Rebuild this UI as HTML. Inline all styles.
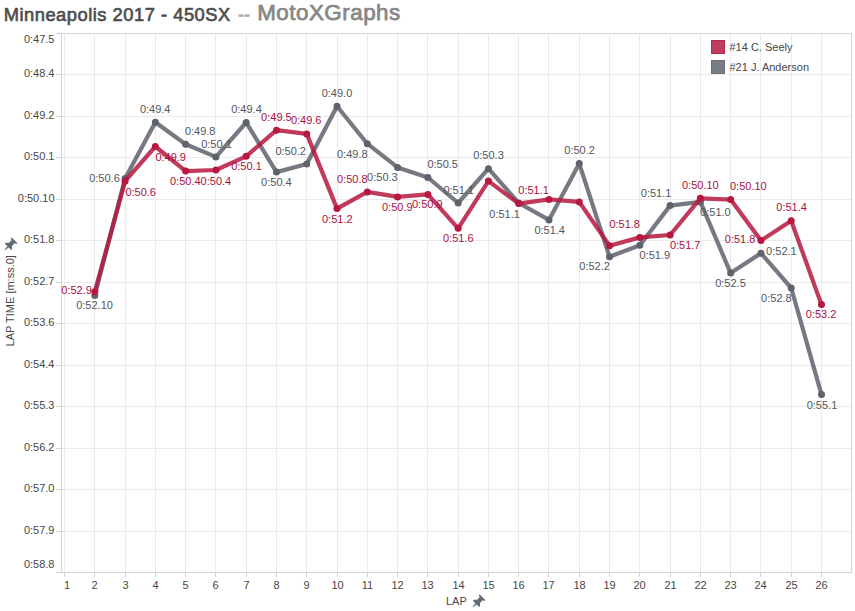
<!DOCTYPE html><html><head><meta charset="utf-8"><title>Minneapolis 2017 - 450SX -- MotoXGraphs</title>
<style>html,body{margin:0;padding:0;background:#fff;}body{width:855px;height:611px;overflow:hidden;position:relative;font-family:"Liberation Sans",sans-serif;}svg{position:absolute;left:0;top:0;}</style></head><body>
<svg width="855" height="611" viewBox="0 0 855 611" font-family="Liberation Sans, sans-serif">
<g font-weight="normal" stroke-linejoin="round">
<text x="3.7" y="20.5" font-size="18.3" fill="#4d4d4d" stroke="#4d4d4d" stroke-width="0.65" textLength="226.5" lengthAdjust="spacing">Minneapolis 2017 - 450SX</text>
<text x="238" y="20.5" font-size="19" fill="#adadad" stroke="#adadad" stroke-width="0.7" textLength="12" lengthAdjust="spacingAndGlyphs">--</text>
<text x="257.2" y="20.4" font-size="22.4" fill="#878787" stroke="#878787" stroke-width="0.75" textLength="143" lengthAdjust="spacing">MotoXGraphs</text>
</g>
<g shape-rendering="crispEdges" stroke-width="1">
<line x1="64.5" y1="34" x2="64.5" y2="572" stroke="#ebebeb"/>
<line x1="94.5" y1="34" x2="94.5" y2="572" stroke="#ebebeb"/>
<line x1="125.5" y1="34" x2="125.5" y2="572" stroke="#ebebeb"/>
<line x1="155.5" y1="34" x2="155.5" y2="572" stroke="#ebebeb"/>
<line x1="185.5" y1="34" x2="185.5" y2="572" stroke="#ebebeb"/>
<line x1="215.5" y1="34" x2="215.5" y2="572" stroke="#ebebeb"/>
<line x1="246.5" y1="34" x2="246.5" y2="572" stroke="#ebebeb"/>
<line x1="276.5" y1="34" x2="276.5" y2="572" stroke="#ebebeb"/>
<line x1="306.5" y1="34" x2="306.5" y2="572" stroke="#ebebeb"/>
<line x1="337.5" y1="34" x2="337.5" y2="572" stroke="#ebebeb"/>
<line x1="367.5" y1="34" x2="367.5" y2="572" stroke="#ebebeb"/>
<line x1="397.5" y1="34" x2="397.5" y2="572" stroke="#ebebeb"/>
<line x1="427.5" y1="34" x2="427.5" y2="572" stroke="#ebebeb"/>
<line x1="458.5" y1="34" x2="458.5" y2="572" stroke="#ebebeb"/>
<line x1="488.5" y1="34" x2="488.5" y2="572" stroke="#ebebeb"/>
<line x1="518.5" y1="34" x2="518.5" y2="572" stroke="#ebebeb"/>
<line x1="548.5" y1="34" x2="548.5" y2="572" stroke="#ebebeb"/>
<line x1="579.5" y1="34" x2="579.5" y2="572" stroke="#ebebeb"/>
<line x1="609.5" y1="34" x2="609.5" y2="572" stroke="#ebebeb"/>
<line x1="639.5" y1="34" x2="639.5" y2="572" stroke="#ebebeb"/>
<line x1="670.5" y1="34" x2="670.5" y2="572" stroke="#ebebeb"/>
<line x1="700.5" y1="34" x2="700.5" y2="572" stroke="#ebebeb"/>
<line x1="730.5" y1="34" x2="730.5" y2="572" stroke="#ebebeb"/>
<line x1="760.5" y1="34" x2="760.5" y2="572" stroke="#ebebeb"/>
<line x1="791.5" y1="34" x2="791.5" y2="572" stroke="#ebebeb"/>
<line x1="821.5" y1="34" x2="821.5" y2="572" stroke="#ebebeb"/>
<line x1="62" y1="74.5" x2="851" y2="74.5" stroke="#ebebeb"/>
<line x1="62" y1="116.5" x2="851" y2="116.5" stroke="#ebebeb"/>
<line x1="62" y1="157.5" x2="851" y2="157.5" stroke="#ebebeb"/>
<line x1="62" y1="199.5" x2="851" y2="199.5" stroke="#ebebeb"/>
<line x1="62" y1="240.5" x2="851" y2="240.5" stroke="#ebebeb"/>
<line x1="62" y1="282.5" x2="851" y2="282.5" stroke="#ebebeb"/>
<line x1="62" y1="323.5" x2="851" y2="323.5" stroke="#ebebeb"/>
<line x1="62" y1="365.5" x2="851" y2="365.5" stroke="#ebebeb"/>
<line x1="62" y1="406.5" x2="851" y2="406.5" stroke="#ebebeb"/>
<line x1="62" y1="448.5" x2="851" y2="448.5" stroke="#ebebeb"/>
<line x1="62" y1="489.5" x2="851" y2="489.5" stroke="#ebebeb"/>
<line x1="62" y1="531.5" x2="851" y2="531.5" stroke="#ebebeb"/>
<line x1="56" y1="33.5" x2="852" y2="33.5" stroke="#d4d4d4"/>
<line x1="56" y1="572.5" x2="852" y2="572.5" stroke="#d4d4d4"/>
<line x1="61.5" y1="33" x2="61.5" y2="573" stroke="#d4d4d4"/>
<line x1="851.5" y1="33" x2="851.5" y2="573" stroke="#d4d4d4"/>
<line x1="56" y1="74.5" x2="61" y2="74.5" stroke="#d4d4d4"/>
<line x1="56" y1="116.5" x2="61" y2="116.5" stroke="#d4d4d4"/>
<line x1="56" y1="157.5" x2="61" y2="157.5" stroke="#d4d4d4"/>
<line x1="56" y1="199.5" x2="61" y2="199.5" stroke="#d4d4d4"/>
<line x1="56" y1="240.5" x2="61" y2="240.5" stroke="#d4d4d4"/>
<line x1="56" y1="282.5" x2="61" y2="282.5" stroke="#d4d4d4"/>
<line x1="56" y1="323.5" x2="61" y2="323.5" stroke="#d4d4d4"/>
<line x1="56" y1="365.5" x2="61" y2="365.5" stroke="#d4d4d4"/>
<line x1="56" y1="406.5" x2="61" y2="406.5" stroke="#d4d4d4"/>
<line x1="56" y1="448.5" x2="61" y2="448.5" stroke="#d4d4d4"/>
<line x1="56" y1="489.5" x2="61" y2="489.5" stroke="#d4d4d4"/>
<line x1="56" y1="531.5" x2="61" y2="531.5" stroke="#d4d4d4"/>
<line x1="64.5" y1="573" x2="64.5" y2="577" stroke="#d4d4d4"/>
<line x1="94.5" y1="573" x2="94.5" y2="577" stroke="#d4d4d4"/>
<line x1="125.5" y1="573" x2="125.5" y2="577" stroke="#d4d4d4"/>
<line x1="155.5" y1="573" x2="155.5" y2="577" stroke="#d4d4d4"/>
<line x1="185.5" y1="573" x2="185.5" y2="577" stroke="#d4d4d4"/>
<line x1="215.5" y1="573" x2="215.5" y2="577" stroke="#d4d4d4"/>
<line x1="246.5" y1="573" x2="246.5" y2="577" stroke="#d4d4d4"/>
<line x1="276.5" y1="573" x2="276.5" y2="577" stroke="#d4d4d4"/>
<line x1="306.5" y1="573" x2="306.5" y2="577" stroke="#d4d4d4"/>
<line x1="337.5" y1="573" x2="337.5" y2="577" stroke="#d4d4d4"/>
<line x1="367.5" y1="573" x2="367.5" y2="577" stroke="#d4d4d4"/>
<line x1="397.5" y1="573" x2="397.5" y2="577" stroke="#d4d4d4"/>
<line x1="427.5" y1="573" x2="427.5" y2="577" stroke="#d4d4d4"/>
<line x1="458.5" y1="573" x2="458.5" y2="577" stroke="#d4d4d4"/>
<line x1="488.5" y1="573" x2="488.5" y2="577" stroke="#d4d4d4"/>
<line x1="518.5" y1="573" x2="518.5" y2="577" stroke="#d4d4d4"/>
<line x1="548.5" y1="573" x2="548.5" y2="577" stroke="#d4d4d4"/>
<line x1="579.5" y1="573" x2="579.5" y2="577" stroke="#d4d4d4"/>
<line x1="609.5" y1="573" x2="609.5" y2="577" stroke="#d4d4d4"/>
<line x1="639.5" y1="573" x2="639.5" y2="577" stroke="#d4d4d4"/>
<line x1="670.5" y1="573" x2="670.5" y2="577" stroke="#d4d4d4"/>
<line x1="700.5" y1="573" x2="700.5" y2="577" stroke="#d4d4d4"/>
<line x1="730.5" y1="573" x2="730.5" y2="577" stroke="#d4d4d4"/>
<line x1="760.5" y1="573" x2="760.5" y2="577" stroke="#d4d4d4"/>
<line x1="791.5" y1="573" x2="791.5" y2="577" stroke="#d4d4d4"/>
<line x1="821.5" y1="573" x2="821.5" y2="577" stroke="#d4d4d4"/>
</g>
<g font-size="11" fill="#474747" text-anchor="end">
<text x="54.5" y="43">0:47.5</text>
<text x="54.5" y="77">0:48.4</text>
<text x="54.5" y="119">0:49.2</text>
<text x="54.5" y="160">0:50.1</text>
<text x="54.5" y="202">0:50.10</text>
<text x="54.5" y="243">0:51.8</text>
<text x="54.5" y="285">0:52.7</text>
<text x="54.5" y="326">0:53.6</text>
<text x="54.5" y="368">0:54.4</text>
<text x="54.5" y="409">0:55.3</text>
<text x="54.5" y="451">0:56.2</text>
<text x="54.5" y="492">0:57.0</text>
<text x="54.5" y="534">0:57.9</text>
<text x="54.5" y="568">0:58.8</text>
</g>
<g font-size="11" fill="#474747" text-anchor="middle">
<text x="67.0" y="589">1</text>
<text x="94.5" y="589">2</text>
<text x="125.5" y="589">3</text>
<text x="155.5" y="589">4</text>
<text x="185.5" y="589">5</text>
<text x="215.5" y="589">6</text>
<text x="246.5" y="589">7</text>
<text x="276.5" y="589">8</text>
<text x="306.5" y="589">9</text>
<text x="337.5" y="589">10</text>
<text x="367.5" y="589">11</text>
<text x="397.5" y="589">12</text>
<text x="427.5" y="589">13</text>
<text x="458.5" y="589">14</text>
<text x="488.5" y="589">15</text>
<text x="518.5" y="589">16</text>
<text x="548.5" y="589">17</text>
<text x="579.5" y="589">18</text>
<text x="609.5" y="589">19</text>
<text x="639.5" y="589">20</text>
<text x="670.5" y="589">21</text>
<text x="700.5" y="589">22</text>
<text x="730.5" y="589">23</text>
<text x="760.5" y="589">24</text>
<text x="791.5" y="589">25</text>
<text x="821.5" y="589">26</text>
</g>
<text x="446" y="605" font-size="11" fill="#474747">LAP</text>
<text transform="translate(14,346.4) rotate(-90)" font-size="11" fill="#474747">LAP TIME [m:ss.0]</text>
<path transform="translate(482.50,597.30) rotate(45)" d="M-3.9,0 H3.9 V1.6 H2.2 V5.5 L4.4,8.0 V9.2 H-4.4 V8.0 L-2.2,5.5 V1.6 H-3.9 Z M-0.85,9.2 H0.85 L0.35,13.7 H-0.35 Z" fill="#5f6b79"/>
<path transform="translate(14.50,240.30) rotate(45)" d="M-3.9,0 H3.9 V1.6 H2.2 V5.5 L4.4,8.0 V9.2 H-4.4 V8.0 L-2.2,5.5 V1.6 H-3.9 Z M-0.85,9.2 H0.85 L0.35,13.7 H-0.35 Z" fill="#5f6b79"/>
<rect x="711.5" y="40.5" width="13" height="13" fill="#bf3d5f" stroke="#b8294f" stroke-width="1"/>
<rect x="711.5" y="60.5" width="13" height="13" fill="#787c84" stroke="#6a6e76" stroke-width="1"/>
<text x="729.5" y="51" font-size="11" fill="#474747">#14 C. Seely</text>
<text x="729.5" y="71" font-size="11" fill="#474747">#21 J. Anderson</text>
<polyline points="94.78,295.50 125.06,178.60 155.34,122.30 185.62,144.20 215.90,156.90 246.18,122.50 276.46,172.10 306.74,164.00 337.02,106.30 367.30,143.70 397.58,167.40 427.86,177.50 458.14,203.00 488.42,168.70 518.70,203.00 548.98,219.90 579.26,163.60 609.54,256.80 639.82,245.20 670.10,205.60 700.38,201.90 730.66,273.10 760.94,253.20 791.22,288.00 821.50,394.60" fill="none" stroke="#5e626b" stroke-width="4.2" stroke-opacity="0.85" stroke-linejoin="round" stroke-linecap="round"/><circle cx="94.78" cy="295.50" r="3.5" fill="#5e626b"/><circle cx="125.06" cy="178.60" r="3.5" fill="#5e626b"/><circle cx="155.34" cy="122.30" r="3.5" fill="#5e626b"/><circle cx="185.62" cy="144.20" r="3.5" fill="#5e626b"/><circle cx="215.90" cy="156.90" r="3.5" fill="#5e626b"/><circle cx="246.18" cy="122.50" r="3.5" fill="#5e626b"/><circle cx="276.46" cy="172.10" r="3.5" fill="#5e626b"/><circle cx="306.74" cy="164.00" r="3.5" fill="#5e626b"/><circle cx="337.02" cy="106.30" r="3.5" fill="#5e626b"/><circle cx="367.30" cy="143.70" r="3.5" fill="#5e626b"/><circle cx="397.58" cy="167.40" r="3.5" fill="#5e626b"/><circle cx="427.86" cy="177.50" r="3.5" fill="#5e626b"/><circle cx="458.14" cy="203.00" r="3.5" fill="#5e626b"/><circle cx="488.42" cy="168.70" r="3.5" fill="#5e626b"/><circle cx="518.70" cy="203.00" r="3.5" fill="#5e626b"/><circle cx="548.98" cy="219.90" r="3.5" fill="#5e626b"/><circle cx="579.26" cy="163.60" r="3.5" fill="#5e626b"/><circle cx="609.54" cy="256.80" r="3.5" fill="#5e626b"/><circle cx="639.82" cy="245.20" r="3.5" fill="#5e626b"/><circle cx="670.10" cy="205.60" r="3.5" fill="#5e626b"/><circle cx="700.38" cy="201.90" r="3.5" fill="#5e626b"/><circle cx="730.66" cy="273.10" r="3.5" fill="#5e626b"/><circle cx="760.94" cy="253.20" r="3.5" fill="#5e626b"/><circle cx="791.22" cy="288.00" r="3.5" fill="#5e626b"/><circle cx="821.50" cy="394.60" r="3.5" fill="#5e626b"/>
<polyline points="94.78,291.80 125.06,181.20 155.34,146.50 185.62,171.10 215.90,170.00 246.18,156.30 276.46,130.20 306.74,133.90 337.02,208.60 367.30,191.90 397.58,196.90 427.86,194.40 458.14,228.30 488.42,181.10 518.70,203.60 548.98,199.40 579.26,201.90 609.54,245.70 639.82,237.40 670.10,235.00 700.38,198.30 730.66,199.60 760.94,240.60 791.22,220.80 821.50,304.60" fill="none" stroke="#b6183f" stroke-width="4.2" stroke-opacity="0.85" stroke-linejoin="round" stroke-linecap="round"/><circle cx="94.78" cy="291.80" r="3.5" fill="#b6183f"/><circle cx="125.06" cy="181.20" r="3.5" fill="#b6183f"/><circle cx="155.34" cy="146.50" r="3.5" fill="#b6183f"/><circle cx="185.62" cy="171.10" r="3.5" fill="#b6183f"/><circle cx="215.90" cy="170.00" r="3.5" fill="#b6183f"/><circle cx="246.18" cy="156.30" r="3.5" fill="#b6183f"/><circle cx="276.46" cy="130.20" r="3.5" fill="#b6183f"/><circle cx="306.74" cy="133.90" r="3.5" fill="#b6183f"/><circle cx="337.02" cy="208.60" r="3.5" fill="#b6183f"/><circle cx="367.30" cy="191.90" r="3.5" fill="#b6183f"/><circle cx="397.58" cy="196.90" r="3.5" fill="#b6183f"/><circle cx="427.86" cy="194.40" r="3.5" fill="#b6183f"/><circle cx="458.14" cy="228.30" r="3.5" fill="#b6183f"/><circle cx="488.42" cy="181.10" r="3.5" fill="#b6183f"/><circle cx="518.70" cy="203.60" r="3.5" fill="#b6183f"/><circle cx="548.98" cy="199.40" r="3.5" fill="#b6183f"/><circle cx="579.26" cy="201.90" r="3.5" fill="#b6183f"/><circle cx="609.54" cy="245.70" r="3.5" fill="#b6183f"/><circle cx="639.82" cy="237.40" r="3.5" fill="#b6183f"/><circle cx="670.10" cy="235.00" r="3.5" fill="#b6183f"/><circle cx="700.38" cy="198.30" r="3.5" fill="#b6183f"/><circle cx="730.66" cy="199.60" r="3.5" fill="#b6183f"/><circle cx="760.94" cy="240.60" r="3.5" fill="#b6183f"/><circle cx="791.22" cy="220.80" r="3.5" fill="#b6183f"/><circle cx="821.50" cy="304.60" r="3.5" fill="#b6183f"/>
<g font-size="11" fill="#51565e">
<text x="76.2" y="309.0">0:52.10</text>
<text x="89.2" y="182.0">0:50.6</text>
<text x="139.9" y="113.0">0:49.4</text>
<text x="184.9" y="135.0">0:49.8</text>
<text x="201.2" y="148.0">0:50.1</text>
<text x="231.2" y="113.0">0:49.4</text>
<text x="261.1" y="186.0">0:50.4</text>
<text x="275.4" y="155.0">0:50.2</text>
<text x="321.7" y="97.0">0:49.0</text>
<text x="337.0" y="158.0">0:49.8</text>
<text x="367.1" y="181.0">0:50.3</text>
<text x="427.4" y="168.0">0:50.5</text>
<text x="443.4" y="194.0">0:51.1</text>
<text x="473.2" y="159.0">0:50.3</text>
<text x="489.3" y="218.0">0:51.1</text>
<text x="534.4" y="234.0">0:51.4</text>
<text x="564.3" y="154.0">0:50.2</text>
<text x="579.3" y="270.0">0:52.2</text>
<text x="639.5" y="259.0">0:51.9</text>
<text x="640.8" y="197.0">0:51.1</text>
<text x="700.1" y="216.0">0:51.0</text>
<text x="715.2" y="287.0">0:52.5</text>
<text x="766.1" y="255.0">0:52.1</text>
<text x="761.1" y="302.0">0:52.8</text>
<text x="806.7" y="409.0">0:55.1</text>
</g>
<g font-size="11" fill="#a80f3f">
<text x="61.3" y="294.0">0:52.9</text>
<text x="125.4" y="196.0">0:50.6</text>
<text x="155.4" y="161.0">0:49.9</text>
<text x="170.0" y="185.0">0:50.4</text>
<text x="200.6" y="185.0">0:50.4</text>
<text x="231.2" y="170.0">0:50.1</text>
<text x="261.1" y="121.0">0:49.5</text>
<text x="290.9" y="124.0">0:49.6</text>
<text x="322.0" y="223.0">0:51.2</text>
<text x="337.0" y="183.0">0:50.8</text>
<text x="382.0" y="211.0">0:50.9</text>
<text x="412.0" y="208.0">0:50.9</text>
<text x="443.0" y="242.0">0:51.6</text>
<text x="518.3" y="194.0">0:51.1</text>
<text x="609.4" y="228.0">0:51.8</text>
<text x="669.9" y="249.0">0:51.7</text>
<text x="682.0" y="189.0">0:50.10</text>
<text x="730.0" y="190.0">0:50.10</text>
<text x="724.8" y="243.0">0:51.8</text>
<text x="776.3" y="211.0">0:51.4</text>
<text x="805.8" y="318.0">0:53.2</text>
</g>
</svg></body></html>
